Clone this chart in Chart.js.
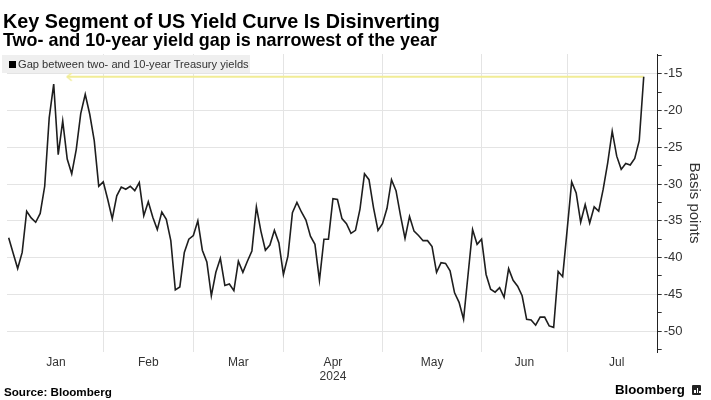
<!DOCTYPE html>
<html><head><meta charset="utf-8">
<script src="https://cdn.jsdelivr.net/npm/chart.js@4.4.1/dist/chart.umd.min.js"></script>
<style>
html,body{margin:0;padding:0;background:#fff;}
body{width:711px;height:400px;position:relative;overflow:hidden;font-family:"Liberation Sans",Arial,sans-serif;color:#000;}
canvas{position:absolute;left:0;top:0;}
.t{position:absolute;white-space:nowrap;}
#title{left:3px;top:9.5px;font-weight:bold;font-size:18px;line-height:22px;height:22px;}
#subtitle{left:3px;top:30.5px;font-weight:bold;font-size:14px;line-height:18px;height:18px;}
#legend{position:absolute;left:2px;top:55px;width:248px;height:18px;background:#efefef;}
#legsq{position:absolute;left:7px;top:6px;width:7px;height:7px;background:#000;}
#legtxt{left:16px;top:0;font-size:10.5px;line-height:18px;color:#333;}
#source{left:4px;top:384.8px;font-weight:bold;font-size:11px;line-height:14px;}
#logo{left:615px;top:381px;font-weight:bold;font-size:14px;line-height:18px;}
#icon{position:absolute;left:692px;top:385px;width:9px;height:10px;background:#222;border-radius:1px;}
#icon i{position:absolute;bottom:2px;width:1.5px;background:#fff;}
</style>
</head><body>
<canvas id="c" width="711" height="400"></canvas>
<div id="title" class="t">Key Segment of US Yield Curve Is Disinverting</div>
<div id="subtitle" class="t">Two- and 10-year yield gap is narrowest of the year</div>
<div id="legend"><div id="legsq"></div><div id="legtxt" class="t">Gap between two- and 10-year Treasury yields</div></div>
<div id="source" class="t">Source: Bloomberg</div>
<div id="logo" class="t">Bloomberg</div>
<div id="icon"><i style="left:2px;height:3px"></i><i style="left:4.5px;height:5px"></i><i style="left:7px;height:2px"></i></div>
<script>
// ---- categories ----
const months = ['Jan', 'Feb', 'Mar', 'Apr', 'May', 'Jun', 'Jul'];
const yearLabel = '2024';
const marketHolidays = ['2024-01-01', '2024-01-15', '2024-02-19', '2024-03-29', '2024-05-27', '2024-06-19', '2024-07-04'];

// ---- series values (basis points, one per trading day) ----
const janValues = [-37.3, -39.4, -41.5, -39.3, -33.7, -34.6, -35.2, -34.0, -30.3, -21.0, -16.4,
  -26.0, -21.4, -26.6, -28.6, -25.3, -20.4, -17.8, -20.5, -24.1, -30.3];
const febValues = [-29.7, -32.1, -34.7, -31.6, -30.4, -30.7, -30.3, -30.9, -29.8, -34.3,
  -32.4, -34.5, -36.2, -33.8, -34.8, -37.7, -44.4, -44.0, -39.3, -37.5];
const marValues = [-37.0, -35.0, -39.0, -40.6, -45.2, -42.0, -40.1, -43.8, -43.6, -44.5,
  -40.5, -42.0, -40.5, -39.1, -33.1, -36.4, -39.0, -38.3, -36.3, -38.0];
const aprValues = [-42.3, -39.8, -33.9, -32.5, -33.8, -34.9, -37.1, -38.2, -43.1, -37.5, -37.5,
  -32.0, -32.1, -34.7, -35.4, -36.7, -36.3, -33.4, -28.6, -29.4, -33.2, -36.3];
const mayValues = [-35.4, -33.3, -29.4, -30.9, -34.3, -37.4, -34.4, -36.4, -37.0, -37.7, -37.7,
  -38.5, -42.0, -40.7, -40.8, -41.8, -44.8, -46.1, -48.4, -42.3, -36.2, -38.2];
const junValues = [-37.5, -42.3, -44.3, -44.7, -44.1, -45.4, -41.5, -43.1, -43.9, -45.2,
  -48.4, -48.5, -49.2, -48.1, -48.1, -49.3, -49.5, -41.9, -42.6];
const julValues = [-36.2, -29.7, -31.2, -35.2, -32.8, -35.3, -33.1, -33.7, -30.7, -27.1,
  -22.8, -26.2, -28.0, -27.2, -27.4, -26.5, -24.1, -15.4];

// ---- axis ticks ----
const yTickValues = [-50, -45, -40, -35, -30, -25, -20, -15];
const yMinorStep = 2.5;
const yMin = -52.85, yMax = -12.3;
const arrowFromIndex = 13;

const monthly = [janValues, febValues, marValues, aprValues, mayValues, junValues, julValues];
const values = [].concat(...monthly);
const points = values.map((v, i) => ({x: i, y: v}));
const lastIndex = values.length - 1;
const lastValue = values[lastIndex];

// trading days per calendar month (weekdays minus market holidays)
function tradingDays(m) {
  let n = 0;
  const d = new Date(Date.UTC(2024, m, 1));
  while (d.getUTCMonth() === m) {
    const wd = d.getUTCDay();
    const iso = d.toISOString().slice(0, 10);
    if (wd !== 0 && wd !== 6 && !marketHolidays.includes(iso)) n++;
    d.setUTCDate(d.getUTCDate() + 1);
  }
  return n;
}
const monthStarts = [];
let acc = 0;
months.forEach((m, i) => { monthStarts.push(acc); acc += tradingDays(i); });
const monthEnds = monthStarts.slice(1).concat([acc]);
const monthMids = monthStarts.map((s, i) => (s + monthEnds[i]) / 2);
const gridStarts = monthStarts.slice(1);

const xMin = -0.37, xMax = 144.1;

// arrow head image
const arrowImg = document.createElement('canvas');
arrowImg.width = 14; arrowImg.height = 10;
(function () {
  const g = arrowImg.getContext('2d');
  g.strokeStyle = '#f1ec96'; g.lineWidth = 1.6; g.lineCap = 'round';
  g.beginPath(); g.moveTo(11, 1.5); g.lineTo(7, 5); g.lineTo(11, 8.5); g.stroke();
})();

const tickFont = {family: '"Liberation Sans", Arial, sans-serif', size: 12};

new Chart(document.getElementById('c'), {
  type: 'line',
  data: {
    datasets: [
      {
        label: 'Gap between two- and 10-year Treasury yields',
        data: points,
        borderColor: '#1e1e1e', borderWidth: 1.6,
        pointRadius: 0, tension: 0, order: 1,
        xAxisID: 'x', yAxisID: 'y'
      },
      {
        label: 'marker',
        data: [{x: arrowFromIndex, y: lastValue}, {x: lastIndex, y: lastValue}],
        borderColor: '#f1ec96', borderWidth: 2,
        pointRadius: ctx => ctx.dataIndex === 0 ? 5 : 0,
        pointStyle: ctx => ctx.dataIndex === 0 ? arrowImg : 'circle',
        tension: 0, order: 2,
        xAxisID: 'x', yAxisID: 'y'
      }
    ]
  },
  options: {
    responsive: false,
    animation: false,
    devicePixelRatio: 1,
    layout: {padding: {top: 54, left: 0, right: 0, bottom: 0}},
    plugins: {legend: {display: false}, tooltip: {enabled: false}},
    scales: {
      x: {
        type: 'linear', position: 'bottom', min: xMin, max: xMax,
        afterBuildTicks: s => { s.ticks = gridStarts.map(v => ({value: v})); },
        ticks: {display: false},
        grid: {color: '#e4e4e4', lineWidth: 1, drawTicks: false},
        border: {display: false},
        afterFit: s => { s.height = 0; }
      },
      xm: {
        type: 'linear', position: 'bottom', min: xMin, max: xMax,
        afterBuildTicks: s => { s.ticks = monthMids.map(v => ({value: v})); },
        ticks: {
          autoSkip: false, maxRotation: 0, minRotation: 0, padding: 3,
          color: '#333', font: tickFont,
          callback: v => {
            const i = monthMids.findIndex(m => Math.abs(m - v) < 1e-6);
            if (i < 0) return '';
            return months[i] === 'Apr' ? [months[i], yearLabel] : months[i];
          }
        },
        grid: {display: false, drawTicks: false},
        border: {display: false},
        afterFit: s => { s.height = 48; }
      },
      y: {
        type: 'linear', position: 'right', min: yMin, max: yMax,
        afterBuildTicks: s => {
          const t = [];
          for (let v = yTickValues[0] - yMinorStep; v <= yTickValues[yTickValues.length - 1] + yMinorStep + 1e-9; v += yMinorStep) t.push({value: v});
          s.ticks = t;
        },
        ticks: {
          autoSkip: false, padding: 2, color: '#333',
          font: {family: '"Liberation Sans", Arial, sans-serif', size: 13},
          callback: v => yTickValues.includes(v) ? String(v) : ''
        },
        grid: {
          color: c => (c.tick && yTickValues.includes(c.tick.value)) ? '#e4e4e4' : 'rgba(0,0,0,0)',
          tickColor: '#333', tickLength: 4, lineWidth: 1
        },
        border: {display: true, color: '#222', width: 1},
        title: {
          display: true, text: 'Basis points', color: '#333',
          font: {family: '"Liberation Sans", Arial, sans-serif', size: 15},
          padding: {top: 8, bottom: 0}
        },
        afterFit: s => { s.width = 53.3; }
      }
    }
  }
});

function fit(id, w) {
  const el = document.getElementById(id);
  const fs = parseFloat(getComputedStyle(el).fontSize);
  const cw = el.getBoundingClientRect().width;
  if (cw > 0) el.style.fontSize = (fs * w / cw).toFixed(2) + 'px';
}
fit('title', 437);
fit('subtitle', 434);
fit('legtxt', 231);
fit('source', 108);
fit('logo', 70);
</script>
</body></html>
